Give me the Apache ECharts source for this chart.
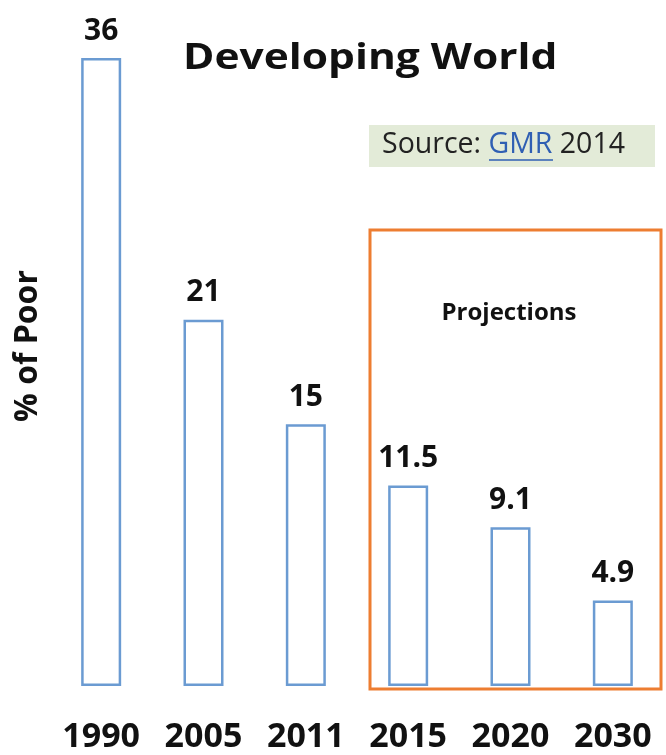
<!DOCTYPE html>
<html>
<head>
<meta charset="utf-8">
<script src="https://cdn.jsdelivr.net/npm/echarts@6/dist/echarts.min.js"></script>
<style>
  html, body { margin: 0; padding: 0; background: #ffffff; }
  #chart { width: 666px; height: 755px; }
</style>
</head>
<body>
<div id="chart"></div>
<script>
// Share of population in poverty, developing world
const years = ['1990', '2005', '2011', '2015', '2020', '2030'];
const poorShare = [36, 21, 15, 11.5, 9.1, 4.9];

const FONT = '"Open Sans", Lato, sans-serif';
const chart = echarts.init(document.getElementById('chart'));

chart.setOption({
  backgroundColor: '#ffffff',
  animation: false,
  grid: { left: 50, right: 2, top: 58, bottom: 69 },
  xAxis: {
    type: 'category',
    data: years,
    axisLine: { show: false },
    axisTick: { show: false },
    axisLabel: {
      margin: 34,
      color: '#111',
      fontFamily: FONT,
      fontWeight: 'bold',
      fontSize: 34
    }
  },
  yAxis: {
    type: 'value',
    min: 0,
    max: 36,
    show: false,
    splitLine: { show: false }
  },
  series: [{
    type: 'bar',
    data: poorShare,
    barWidth: 40,
    itemStyle: {
      color: '#ffffff',
      borderColor: '#6B9BD2',
      borderWidth: 2.5
    },
    label: {
      show: true,
      position: 'top',
      distance: 12,
      color: '#111',
      fontFamily: FONT,
      fontWeight: 'bold',
      fontSize: 30
    }
  }],
  graphic: [
    {
      type: 'text',
      x: 183, y: 59,
      scaleX: 1.18,
      style: {
        text: 'Developing World',
        verticalAlign: 'middle',
        fontFamily: FONT, fontWeight: 'bold', fontSize: 36, fill: '#111'
      }
    },
    {
      type: 'rect',
      shape: { x: 369, y: 125, width: 286, height: 42 },
      style: { fill: '#E3EBD8' }
    },
    {
      type: 'text',
      x: 382, y: 145,
      style: {
        rich: {
          a: { fontFamily: FONT, fontSize: 28.5, fill: '#222' },
          b: { fontFamily: FONT, fontSize: 28.5, fill: '#2F5FB3' }
        },
        text: '{a|Source: }{b|GMR}{a| 2014}',
        verticalAlign: 'middle'
      }
    },
    {
      type: 'line',
      shape: { x1: 489, y1: 160, x2: 553, y2: 160 },
      style: { stroke: '#2F5FB3', lineWidth: 1.5 }
    },
    {
      type: 'rect',
      shape: { x: 370, y: 230, width: 291, height: 459 },
      style: { fill: 'none', stroke: '#ED7D31', lineWidth: 3 }
    },
    {
      type: 'text',
      x: 509, y: 313,
      style: {
        text: 'Projections',
        align: 'center', verticalAlign: 'middle',
        fontFamily: FONT, fontWeight: 'bold', fontSize: 24, fill: '#111'
      }
    },
    {
      type: 'text',
      x: 28, y: 346,
      rotation: Math.PI / 2,
      style: {
        text: '% of Poor',
        align: 'center', verticalAlign: 'middle',
        fontFamily: FONT, fontWeight: 'bold', fontSize: 32, fill: '#111'
      }
    }
  ]
});
</script>
</body>
</html>
